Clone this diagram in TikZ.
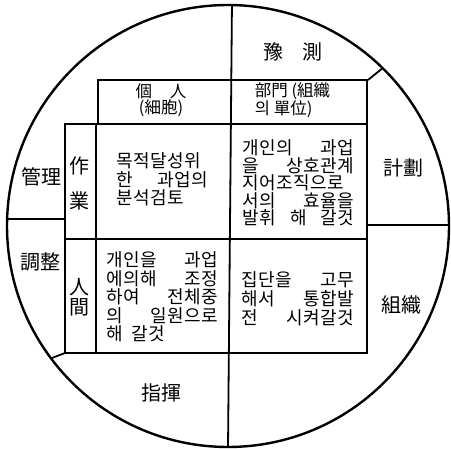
\documentclass[tikz,border=0pt]{standalone}
\usepackage{fontspec}
\newfontfamily\kr{Noto Sans CJK KR}
\newfontfamily\krs[LetterSpace=2]{Noto Sans CJK KR}
\newcommand\jl[2]{\makebox[#1][s]{#2}}
\tikzset{
  lab/.style={font=\kr\fontsize{20}{20}\selectfont, inner sep=0pt},
  head/.style={font=\kr\fontsize{16.5}{16}\selectfont, inner sep=0pt},
  cell/.style={font=\krs\fontsize{18}{18.5}\selectfont, inner sep=0pt, align=left, anchor=north west},
}
\begin{document}
\begin{tikzpicture}[x=1pt,y=-1pt,line width=1.8pt]
\useasboundingbox (0,0) rectangle (451,449);
\coordinate (o) at (228,226);
\draw[line width=2.4pt] (o) circle (221pt);
\begin{scope}
\clip (o) circle (221pt);
\draw (232,0)--(228,449);
\draw (0,219)--(65,219);
\draw (367,225)--(451,225);
\draw (368,80)--(400,54);
\draw (65,353)--(23,369);
\end{scope}
\draw (98,124)--(98,80)--(367,80)--(367,353)--(65,353)--(65,124)--cycle;
\draw (98,124)--(367,124);
\draw (65,239)--(367,239);
\draw (96,124)--(96,353);
% outer labels
\node[lab] (yecheuk) at (293,52) {豫\hspace{19pt}測};
\node[lab] (gyehoek) at (403,168) {計劃};
\node[lab] (jojik) at (401,305) {組織};
\node[lab] (gwanri) at (41,177) {管理};
\node[lab] (jojeong) at (40,262) {調整};
\node[lab] (jihwi) at (161,393) {指揮};
% row and column heads
\node[lab] (jak) at (80,166) {作};
\node[lab] (eop) at (80,201) {業};
\node[lab] (in) at (80,287) {人};
\node[lab] (gan) at (80,307) {間};
\node[head,align=center] (gaein) at (161,100) {個\hspace{18pt}人\\(細胞)};
\node[head,align=left,anchor=west] (bumun) at (254,100) {部門 (組織\\의 單位)};
% cells
\node[cell] (c11) at (116,152) {\jl{91pt}{목적달성위}\\\jl{91pt}{한 과업의}\\분석검토};
\node[cell,font=\krs\fontsize{18}{17.5}\selectfont] (c12) at (242,139)
  {\jl{111pt}{개인의 과업}\\\jl{111pt}{을 상호관계}\\\jl{111pt}{지어조직으로}\\\jl{111pt}{서의 효율을}\\\jl{111pt}{발휘 해 갈것}};
\node[cell] (c21) at (106,251)
  {\jl{111pt}{개인을 과업}\\\jl{111pt}{에의해 조정}\\\jl{111pt}{하여 전체중}\\\jl{111pt}{의 일원으로}\\해\hspace{8pt}갈것};
\node[cell,font=\krs\fontsize{18}{19}\selectfont] (c22) at (241,271)
  {\jl{112pt}{집단을 고무}\\\jl{112pt}{해서 통합발}\\\jl{112pt}{전 시켜갈것}};
\end{tikzpicture}
\end{document}
